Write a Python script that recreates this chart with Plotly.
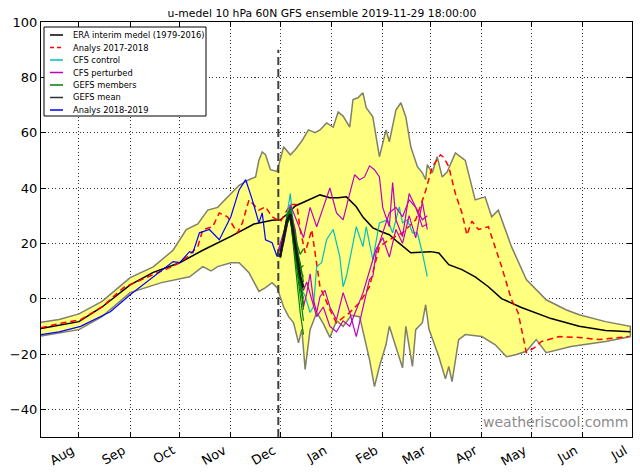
import plotly.graph_objects as go

# ---------------- data ----------------
title_text = "u-medel 10 hPa 60N GFS ensemble 2019-11-29 18:00:00"
forecast_start = "2019-11-29 18:00"
forecast_line_y = [-50, 90]

month_ticks = ["2019-08-01", "2019-09-01", "2019-10-01", "2019-11-01", "2019-12-01", "2020-01-01",
               "2020-02-01", "2020-03-01", "2020-04-01", "2020-05-01", "2020-06-01", "2020-07-01"]
month_labels = ["Aug", "Sep", "Oct", "Nov", "Dec", "Jan", "Feb", "Mar", "Apr", "May", "Jun", "Jul"]
y_ticks = [-40, -20, 0, 20, 40, 60, 80, 100]

era_dates = ["2019-07-09", "2019-08-01", "2019-08-15", "2019-09-01", "2019-09-15", "2019-10-01",
             "2019-10-15", "2019-11-01", "2019-11-15", "2019-11-26", "2019-12-01", "2019-12-05",
             "2019-12-10", "2019-12-20", "2019-12-25", "2019-12-31", "2020-01-05", "2020-01-10",
             "2020-01-16", "2020-01-20", "2020-01-26", "2020-02-01", "2020-02-05", "2020-02-10",
             "2020-02-18", "2020-03-01", "2020-03-06", "2020-03-12", "2020-03-20", "2020-03-28",
             "2020-04-05", "2020-04-13", "2020-04-25", "2020-05-13", "2020-05-30", "2020-06-15",
             "2020-06-30"]
era_vals = [-10.8, -8.3, -3.0, 5.0, 9.5, 13.0, 17.5, 22.5, 27.0, 28.3, 28.5, 30.5,
            33.5, 36.0, 37.5, 36.5, 36.5, 36.8, 33.2, 29.5, 25.6, 24.0, 23.1, 20.5,
            16.6, 17.0, 16.5, 12.3, 10.5, 7.9, 4.3, 0.0, -3.2, -7.2, -10.0, -11.5, -12.0]

band_up_dates = ["2019-07-09", "2019-07-20", "2019-08-01", "2019-08-15", "2019-09-01", "2019-09-15",
                 "2019-09-27", "2019-10-05", "2019-10-12", "2019-10-18", "2019-10-24", "2019-10-30",
                 "2019-11-06", "2019-11-12", "2019-11-16", "2019-11-18", "2019-11-20", "2019-11-22",
                 "2019-11-25", "2019-11-29", "2019-12-03", "2019-12-07", "2019-12-10", "2019-12-14",
                 "2019-12-18", "2019-12-22", "2019-12-25", "2019-12-29", "2020-01-02", "2020-01-05",
                 "2020-01-08", "2020-01-12", "2020-01-14", "2020-01-17", "2020-01-20", "2020-01-22",
                 "2020-01-26", "2020-01-30", "2020-02-03", "2020-02-05", "2020-02-09", "2020-02-12",
                 "2020-02-15", "2020-02-18", "2020-02-22", "2020-02-25", "2020-02-27", "2020-02-28",
                 "2020-03-02", "2020-03-05", "2020-03-08", "2020-03-11", "2020-03-16", "2020-03-22",
                 "2020-03-28", "2020-04-03", "2020-04-07", "2020-04-11", "2020-04-19", "2020-04-28",
                 "2020-05-10", "2020-05-22", "2020-05-30", "2020-06-15", "2020-06-30"]
band_up_vals = [-8.5, -7.5, -5.5, -1.0, 7.6, 11.5,
                17.5, 25.0, 27.0, 32.0, 33.0, 36.8,
                41.0, 43.0, 44.0, 50.0, 53.0, 52.0,
                46.6, 46.0, 54.9, 52.0, 53.8, 57.0,
                61.0, 60.0, 61.0, 63.5, 62.0, 67.5,
                66.0, 62.0, 72.0, 72.6, 74.4, 69.0,
                65.7, 51.3, 61.0, 56.7, 68.2, 70.8,
                65.7, 54.9, 47.7, 45.5, 43.0, 48.4,
                45.5, 51.3, 44.0, 45.8, 52.7, 50.0,
                35.7, 36.8, 29.6, 32.0, 18.8, 6.9,
                -0.4, -4.0, -5.8, -8.3, -10.0]

band_lo_dates = ["2019-07-09", "2019-07-20", "2019-08-01", "2019-08-15", "2019-09-01", "2019-09-20",
                 "2019-10-07", "2019-10-15", "2019-10-20", "2019-10-24", "2019-11-01", "2019-11-06",
                 "2019-11-12", "2019-11-18", "2019-11-22", "2019-11-26", "2019-11-29", "2019-12-03",
                 "2019-12-06", "2019-12-09", "2019-12-12", "2019-12-14", "2019-12-16", "2019-12-19",
                 "2019-12-23", "2019-12-27", "2019-12-31", "2020-01-04", "2020-01-08", "2020-01-13",
                 "2020-01-18", "2020-01-24", "2020-01-27", "2020-01-30", "2020-02-03", "2020-02-05",
                 "2020-02-09", "2020-02-13", "2020-02-15", "2020-02-19", "2020-02-21", "2020-02-25",
                 "2020-02-27", "2020-02-29", "2020-03-06", "2020-03-10", "2020-03-12", "2020-03-14",
                 "2020-03-18", "2020-03-22", "2020-04-01", "2020-04-09", "2020-04-16", "2020-04-22",
                 "2020-04-28", "2020-05-04", "2020-05-10", "2020-05-25", "2020-06-15", "2020-06-30"]
band_lo_vals = [-13.5, -12.5, -11.2, -6.5, 2.2, 5.8,
                7.9, 11.6, 10.0, 11.6, 13.0, 13.0,
                9.4, 2.6, 4.0, 5.8, 4.0, -3.0,
                -6.5, -8.7, -16.0, -11.0, -25.6, -11.2,
                -5.0, -9.0, -14.0, -8.0, -10.0, -6.0,
                -6.5, -22.0, -31.8, -24.5, -16.6, -10.0,
                -17.3, -25.0, -10.0, -24.5, -11.2, -8.7,
                -2.2, -11.0, -21.0, -29.0, -24.5, -30.0,
                -14.8, -13.0, -13.7, -16.6, -21.0, -20.2,
                -19.0, -14.8, -19.5, -17.3, -15.5, -13.7]

an1718_dates = ["2019-07-09", "2019-07-20", "2019-08-02", "2019-08-15", "2019-08-28", "2019-09-08",
                "2019-09-18", "2019-09-25", "2019-10-01", "2019-10-05", "2019-10-12", "2019-10-15",
                "2019-10-21", "2019-10-25", "2019-10-30", "2019-11-05", "2019-11-08", "2019-11-12",
                "2019-11-18", "2019-11-22", "2019-11-26", "2019-12-01", "2019-12-07", "2019-12-11",
                "2019-12-13", "2019-12-16", "2019-12-20", "2019-12-25", "2019-12-31", "2020-01-04",
                "2020-01-12", "2020-01-18", "2020-01-24", "2020-01-26", "2020-01-30", "2020-02-05",
                "2020-02-13", "2020-02-21", "2020-02-27", "2020-03-02", "2020-03-07", "2020-03-09",
                "2020-03-12", "2020-03-16", "2020-03-20", "2020-03-23", "2020-03-26", "2020-03-30",
                "2020-04-05", "2020-04-09", "2020-04-13", "2020-04-19", "2020-04-23", "2020-04-28",
                "2020-05-04", "2020-05-07", "2020-05-18", "2020-05-30", "2020-06-11", "2020-06-29"]
an1718_vals = [-10.5, -9.0, -7.6, -3.0, 4.0, 7.0,
               9.5, 11.2, 13.0, 14.8, 18.8, 24.9,
               26.0, 31.0, 29.6, 23.8, 27.4, 35.7,
               32.0, 33.2, 29.6, 27.8, 34.0, 34.0,
               25.0, 16.6, 24.9, 4.3, -4.0, -8.7,
               -5.0, -1.4, 4.3, 9.4, 18.8, 21.3,
               23.8, 28.5, 39.0, 47.7, 52.0, 51.0,
               47.7, 38.0, 31.0, 23.0, 28.0, 25.0,
               26.0, 18.8, 11.6, -0.4, -5.0, -19.5,
               -17.3, -15.5, -13.7, -14.0, -14.8, -13.7]

an1819_dates = ["2019-07-09", "2019-07-20", "2019-08-02", "2019-08-20", "2019-09-01", "2019-09-09",
                "2019-09-19", "2019-09-27", "2019-10-01", "2019-10-07", "2019-10-09", "2019-10-13",
                "2019-10-19", "2019-10-25", "2019-11-01", "2019-11-06", "2019-11-10", "2019-11-14",
                "2019-11-18", "2019-11-20", "2019-11-22", "2019-11-26", "2019-11-29"]
an1819_vals = [-13.0, -12.0, -10.0, -4.7, 1.4, 5.0,
               9.7, 13.4, 13.0, 17.0, 16.6, 23.8,
               25.0, 21.3, 29.6, 39.3, 43.0, 35.7,
               27.4, 31.0, 21.3, 20.2, 15.2]

cfs_ctrl_dates = ["2019-11-29", "2019-12-02", "2019-12-05", "2019-12-07", "2019-12-09", "2019-12-12",
                  "2019-12-14", "2019-12-16", "2019-12-19", "2019-12-21", "2019-12-23", "2019-12-26",
                  "2019-12-29", "2020-01-02", "2020-01-06", "2020-01-08", "2020-01-10", "2020-01-12",
                  "2020-01-16", "2020-01-20", "2020-01-22", "2020-01-26", "2020-01-30", "2020-02-04",
                  "2020-02-07", "2020-02-11", "2020-02-13", "2020-02-16", "2020-02-19", "2020-02-22",
                  "2020-02-25", "2020-02-28"]
cfs_ctrl_vals = [16.0, 20.0, 30.0, 38.0, 26.0, 12.0,
                 3.0, 1.0, -5.0, -2.9, 11.6, 13.0,
                 21.3, 25.0, 15.2, 4.3, 8.0, 14.0,
                 26.0, 18.8, 26.0, 14.0, 27.4, 28.5,
                 23.8, 33.2, 27.4, 28.5, 23.8, 23.8,
                 16.6, 8.0]

cfs_pert_dates = [
    ["2019-11-29", "2019-12-03", "2019-12-07", "2019-12-11", "2019-12-15", "2019-12-19", "2019-12-23",
     "2019-12-27", "2019-12-31", "2020-01-04", "2020-01-08", "2020-01-12", "2020-01-15", "2020-01-18",
     "2020-01-21", "2020-01-24", "2020-01-27", "2020-01-30", "2020-02-01", "2020-02-05", "2020-02-07",
     "2020-02-09", "2020-02-13", "2020-02-17", "2020-02-21", "2020-02-25", "2020-02-28"],
    ["2019-11-29", "2019-12-03", "2019-12-07", "2019-12-10", "2019-12-13", "2019-12-15", "2019-12-17",
     "2019-12-19", "2019-12-21", "2019-12-23", "2019-12-25", "2019-12-28", "2019-12-31", "2020-01-04",
     "2020-01-08", "2020-01-12", "2020-01-16", "2020-01-20", "2020-01-24", "2020-01-26", "2020-01-28",
     "2020-02-01", "2020-02-05", "2020-02-09", "2020-02-13", "2020-02-17", "2020-02-21", "2020-02-25",
     "2020-02-28"],
    ["2019-11-29", "2019-12-05", "2019-12-07", "2019-12-09", "2019-12-12", "2019-12-15", "2019-12-17",
     "2019-12-20", "2019-12-23", "2019-12-27", "2019-12-31", "2020-01-04", "2020-01-08", "2020-01-12",
     "2020-01-16", "2020-01-20", "2020-01-24", "2020-01-28", "2020-02-01", "2020-02-05", "2020-02-09",
     "2020-02-13", "2020-02-17", "2020-02-21", "2020-02-25", "2020-02-28"],
]
cfs_pert_vals = [
    [16.0, 22.0, 34.0, 28.0, 22.0, 33.0, 26.0, 33.0, 40.0, 31.0, 28.5, 38.0, 44.8, 43.0,
     44.0, 48.0, 46.6, 44.0, 33.0, 26.0, 42.0, 28.5, 22.4, 38.0, 33.0, 26.0, 27.0],
    [16.0, 20.0, 32.0, 25.0, 10.0, -3.0, 2.0, 9.0, -0.4, -5.0, 0.7, 3.0, -3.0, -7.6,
     2.2, -5.0, -13.7, -3.0, 7.0, 8.0, 16.6, 23.8, 31.0, 33.0, 29.6, 35.7, 33.0, 28.5, 30.0],
    [16.0, 28.0, 33.0, 20.0, 8.0, 3.0, 6.0, 0.0, -6.5, -3.0, -10.0, -12.0, -8.0, -10.0,
     -4.0, 2.0, 10.0, 18.0, 22.0, 15.0, 25.0, 20.0, 30.0, 22.0, 35.0, 25.0],
]

gefs_dates = ["2019-11-29", "2019-12-01", "2019-12-03", "2019-12-05", "2019-12-07",
              "2019-12-09", "2019-12-11", "2019-12-13", "2019-12-15"]
gefs_members = [
    [16.0, 16.0, 23.0, 30.0, 33.0, 26.0, 20.0, 16.0, 18.0],
    [16.0, 15.0, 21.0, 27.0, 31.0, 25.0, 17.0, 10.0, 8.0],
    [16.0, 15.5, 22.0, 28.0, 30.0, 21.0, 12.0, 4.0, -2.0],
    [16.0, 16.0, 22.5, 29.0, 32.0, 24.0, 14.0, 5.0, 0.0],
    [16.0, 15.0, 21.0, 27.0, 29.0, 20.0, 9.0, 0.0, -8.0],
    [16.0, 15.5, 22.0, 28.5, 31.0, 23.0, 16.0, 11.0, 12.0],
    [16.0, 16.0, 23.0, 29.0, 30.0, 19.0, 6.0, -5.0, -13.0],
    [16.0, 15.0, 21.5, 27.5, 30.5, 24.0, 18.0, 13.0, 6.0],
    [16.0, 15.5, 22.0, 28.0, 29.5, 22.0, 13.0, 6.0, 3.0],
    [16.0, 16.0, 22.5, 28.5, 31.5, 25.0, 15.0, 7.0, -4.0],
]
gefs_mean = [16.0, 15.5, 22.0, 28.0, 30.5, 23.0, 15.0, 8.0, 4.0]

legend_labels = ["ERA interim medel (1979-2016)", "Analys 2017-2018", "CFS control", "CFS perturbed",
                 "GEFS members", "GEFS mean", "Analys 2018-2019"]
legend_colors = ["black", "#ff0000", "#00bfbf", "#bf00bf", "#008000", "#303030", "#0000ff"]

# ---------------- figure ----------------
FONT = "DejaVu Sans"
fig = go.Figure()

fig.add_trace(go.Scatter(
    x=band_up_dates + band_lo_dates[::-1], y=band_up_vals + band_lo_vals[::-1],
    mode="lines", fill="toself", fillcolor="#ffff80", name="min/max",
    line=dict(color="#7f7f6a", width=1.5), showlegend=False, hoverinfo="skip"))

fig.add_trace(go.Scatter(x=era_dates, y=era_vals, mode="lines", name=legend_labels[0],
                         line=dict(color=legend_colors[0], width=1.5)))
fig.add_trace(go.Scatter(x=an1718_dates, y=an1718_vals, mode="lines", name=legend_labels[1],
                         line=dict(color=legend_colors[1], width=1.5, dash="6px,4px")))
fig.add_trace(go.Scatter(x=cfs_ctrl_dates, y=cfs_ctrl_vals, mode="lines", name=legend_labels[2],
                         line=dict(color=legend_colors[2], width=1.2)))
for d, v in zip(cfs_pert_dates, cfs_pert_vals):
    fig.add_trace(go.Scatter(x=d, y=v, mode="lines", name=legend_labels[3],
                             line=dict(color=legend_colors[3], width=1.2)))
for m in gefs_members:
    fig.add_trace(go.Scatter(x=gefs_dates, y=m, mode="lines", name=legend_labels[4],
                             line=dict(color=legend_colors[4], width=1.2)))
fig.add_trace(go.Scatter(x=gefs_dates, y=gefs_mean, mode="lines", name=legend_labels[5],
                         line=dict(color="#151515", width=2.5)))
fig.add_trace(go.Scatter(x=an1819_dates, y=an1819_vals, mode="lines", name=legend_labels[6],
                         line=dict(color=legend_colors[6], width=1.2)))

# forecast start marker
fig.add_shape(type="line", xref="x", yref="y", x0=forecast_start, x1=forecast_start,
              y0=forecast_line_y[0], y1=forecast_line_y[1],
              line=dict(color="#404040", width=2, dash="8px,4px"))

# compact legend box (matplotlib-style)
PL, PW, PB, PH = 41, 591, 437, 415  # plot area in pixels


def px_x(p):
    return (p - PL) / PW


def px_y(p):
    return (PB - p) / PH


fig.add_shape(type="rect", xref="paper", yref="paper", x0=px_x(44), x1=px_x(206),
              y0=px_y(116), y1=px_y(27), fillcolor="white", line=dict(color="black", width=1))
for i, (lab, col) in enumerate(zip(legend_labels, legend_colors)):
    yc = 35 + 12.5 * i
    dash = "4px,3px" if i == 1 else "solid"
    fig.add_shape(type="line", xref="paper", yref="paper", x0=px_x(50), x1=px_x(63),
                  y0=px_y(yc), y1=px_y(yc), line=dict(color=col, width=1.5, dash=dash))
    fig.add_annotation(text=lab, xref="paper", yref="paper", x=px_x(71), y=px_y(yc),
                       xanchor="left", yanchor="middle", showarrow=False,
                       font=dict(family=FONT, size=8.3, color="black"))

fig.add_annotation(text="weatheriscool.comm", xref="paper", yref="paper", x=0.997, y=0.036,
                   xanchor="right", yanchor="middle", showarrow=False,
                   font=dict(family=FONT, size=14, color="#8c8c8c"))

axis_common = dict(showline=True, linecolor="black", linewidth=1.2, mirror="allticks",
                   ticks="inside", ticklen=5, tickcolor="black", automargin=False,
                   showgrid=True, gridcolor="#333333", gridwidth=1, griddash="1px,2.5px",
                   zeroline=False, tickfont=dict(family=FONT, size=13, color="black"))

fig.update_layout(
    width=640, height=476,
    margin=dict(l=41, r=8, t=22, b=39),
    paper_bgcolor="white", plot_bgcolor="white",
    font=dict(family=FONT, color="black"),
    title=dict(text=title_text, x=0.503, xref="container", xanchor="center",
               y=0.972, yref="container", yanchor="middle",
               font=dict(family=FONT, size=10.8, color="black")),
    xaxis=dict(type="date", range=["2019-07-09", "2020-07-01"], tickvals=month_ticks,
               ticktext=month_labels, tickangle=-30, ticklabelshift=-7, **axis_common),
    yaxis=dict(range=[-50, 100], tickvals=y_ticks, **axis_common),
    showlegend=False,
)

fig.write_html("out.html", config={"displayModeBar": False},
               post_script="document.body.style.margin='0';")
